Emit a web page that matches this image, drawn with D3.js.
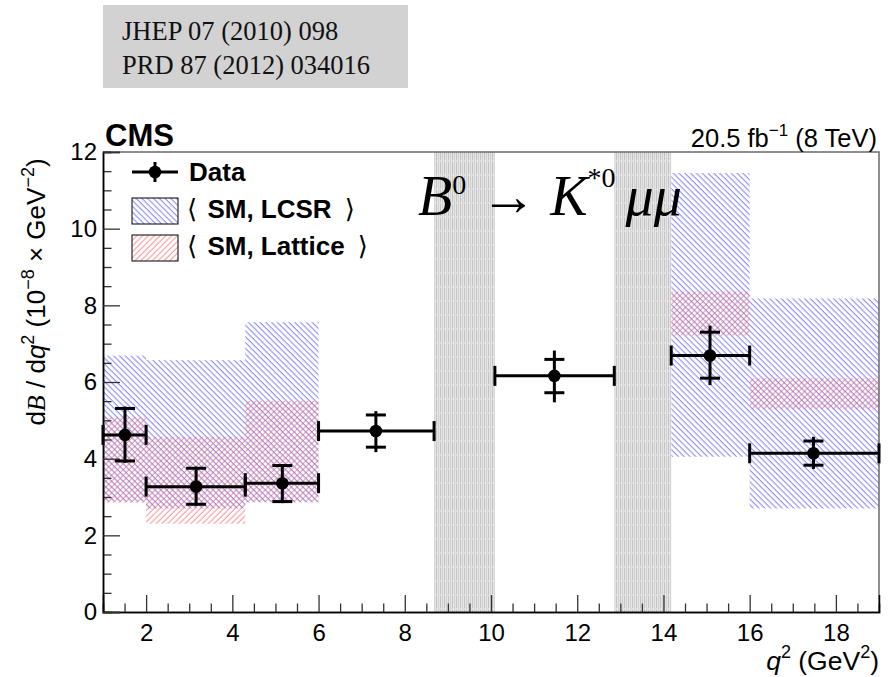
<!DOCTYPE html>
<html>
<head>
<meta charset="utf-8">
<script src="https://cdn.jsdelivr.net/npm/d3@7"></script>
<style>
  html, body { margin: 0; padding: 0; background: #fff; }
  svg { display: block; }
</style>
</head>
<body>
<svg id="chart" width="889" height="677" font-family="'Liberation Sans', Arial, sans-serif"></svg>
<script>
// Measured differential branching fraction per q^2 bin
const binLo   = [1.0, 2.0, 4.3, 6.0, 10.09, 14.18, 16.0];
const binHi   = [2.0, 4.3, 6.0, 8.68, 12.86, 16.0, 19.0];
const binMean = [1.51, 3.16, 5.16, 7.33, 11.47, 15.08, 17.48];
const dataVal = [4.62, 3.27, 3.36, 4.72, 6.16, 6.69, 4.14];
// inner (statistical) and outer (total) uncertainties
const statUp  = [0.69, 0.48, 0.46, 0.42, 0.43, 0.61, 0.32];
const statDn  = [0.68, 0.46, 0.48, 0.42, 0.44, 0.59, 0.31];
const totUp   = [0.74, 0.52, 0.50, 0.52, 0.66, 0.78, 0.43];
const totDn   = [0.73, 0.50, 0.52, 0.55, 0.69, 0.77, 0.41];

// SM predictions (bands) in the theory-covered bins
const thLo     = [1.0, 2.0, 4.3, 14.18, 16.0];
const thHi     = [2.0, 4.3, 6.0, 16.0, 19.0];
const lcsrMin  = [2.88, 2.70, 2.86, 4.05, 2.70];
const lcsrMax  = [6.69, 6.57, 7.56, 11.45, 8.18];
const lattMin  = [2.85, 2.30, 2.88, 7.21, 5.29];
const lattMax  = [5.08, 4.57, 5.51, 8.36, 6.10];

// Vetoed charmonium regions (J/psi and psi')
const vetoLo = [8.68, 12.86];
const vetoHi = [10.09, 14.18];

const xTicks = [2, 4, 6, 8, 10, 12, 14, 16, 18];
const yTicks = [0, 2, 4, 6, 8, 10, 12];

const SANS = "'Liberation Sans', Arial, sans-serif";
const SERIF = "'Liberation Serif', 'Times New Roman', serif";

const svg = d3.select("#chart");
const L = 103, R = 879, T = 152, B = 612;

const x = d3.scaleLinear().domain([1, 19]).range([L, R]);
const y = d3.scaleLinear().domain([0, 12]).range([B, T]);

// ---- fill patterns ----
const defs = svg.append("defs");
function hatch(id, color, angle) {
  const s = 4.1;
  const p = defs.append("pattern")
    .attr("id", id).attr("patternUnits", "userSpaceOnUse")
    .attr("width", s).attr("height", s)
    .attr("patternTransform", `rotate(${angle})`);
  p.append("line").attr("x1", 1).attr("x2", 1).attr("y1", 0).attr("y2", s)
    .attr("stroke", color).attr("stroke-width", 0.85);
}
hatch("hatchBlue", "rgba(70,70,240,0.8)", -45);
hatch("hatchRed", "rgba(245,80,80,0.75)", 45);

const vp = defs.append("pattern")
  .attr("id", "vetoFill").attr("patternUnits", "userSpaceOnUse")
  .attr("width", 4).attr("height", 14);
vp.append("rect").attr("width", 4).attr("height", 14).attr("fill", "#e4e4e4");
vp.append("line").attr("x1", 0.5).attr("x2", 0.5).attr("y1", 0).attr("y2", 14)
  .attr("stroke", "#c4c4c4").attr("stroke-width", 1);
vp.append("line").attr("x1", 2.5).attr("x2", 2.5).attr("y1", 0).attr("y2", 14)
  .attr("stroke", "#d2d2d2").attr("stroke-width", 1);
vp.append("line").attr("x1", 0).attr("x2", 4).attr("y1", 7).attr("y2", 7)
  .attr("stroke", "#f4f4f4").attr("stroke-width", 0.8).attr("stroke-dasharray", "2,2");

// ---- reference box ----
svg.append("rect").attr("x", 103).attr("y", 5).attr("width", 305).attr("height", 83)
  .attr("fill", "#d3d2d3");
[["JHEP 07 (2010) 098", 40], ["PRD 87 (2012) 034016", 74]].forEach(([s, yy]) => {
  svg.append("text").attr("x", 122).attr("y", yy)
    .attr("font-family", SERIF).attr("font-size", 26.5).attr("fill", "#111").text(s);
});

// ---- theory bands ----
const th = thLo.map((d, i) => ({lo: d, hi: thHi[i], lcsr: [lcsrMin[i], lcsrMax[i]], latt: [lattMin[i], lattMax[i]]}));
svg.append("g").selectAll("rect").data(th).join("rect")
  .attr("x", d => x(d.lo)).attr("width", d => x(d.hi) - x(d.lo))
  .attr("y", d => y(d.lcsr[1])).attr("height", d => y(d.lcsr[0]) - y(d.lcsr[1]))
  .attr("fill", "url(#hatchBlue)");
svg.append("g").selectAll("rect").data(th).join("rect")
  .attr("x", d => x(d.lo)).attr("width", d => x(d.hi) - x(d.lo))
  .attr("y", d => y(d.latt[1])).attr("height", d => y(d.latt[0]) - y(d.latt[1]))
  .attr("fill", "url(#hatchRed)");

// ---- vetoed regions ----
svg.append("g").selectAll("rect").data(vetoLo.map((d, i) => [d, vetoHi[i]])).join("rect")
  .attr("x", d => x(d[0])).attr("width", d => x(d[1]) - x(d[0]))
  .attr("y", y(12)).attr("height", y(0) - y(12))
  .attr("fill", "url(#vetoFill)");

// ---- frame & axes ----
svg.append("path")
  .attr("d", `M${L},${T}H${R}V${B}`)
  .attr("fill", "none").attr("stroke", "#6a6a6a").attr("stroke-width", 1.5);

const tickStyle = g => {
  g.select(".domain").attr("stroke", "#000").attr("stroke-width", 1.5);
  g.selectAll(".tick line").attr("stroke", "#333").attr("stroke-width", 1.3);
  g.selectAll(".tick text").attr("font-family", SANS).attr("font-size", 24).attr("fill", "#000");
};

svg.append("g").attr("transform", `translate(0,${B})`)
  .call(d3.axisBottom(x).tickValues(d3.range(1.5, 19, 0.5).filter(v => v % 2 !== 0)).tickSize(-8.5).tickFormat(""))
  .call(tickStyle);
svg.append("g").attr("transform", `translate(0,${B})`)
  .call(d3.axisBottom(x).tickValues(xTicks).tickSize(-17).tickPadding(12).tickFormat(d3.format("d")))
  .call(tickStyle);

svg.append("g").attr("transform", `translate(${L},0)`)
  .call(d3.axisLeft(y).tickValues(d3.range(0.5, 12, 0.5).filter(v => v % 2 !== 0)).tickSize(-8.5).tickFormat(""))
  .call(tickStyle);
svg.append("g").attr("transform", `translate(${L},0)`)
  .call(d3.axisLeft(y).tickValues(yTicks).tickSize(-17).tickPadding(6).tickFormat(d3.format("d")))
  .call(tickStyle);

// ---- axis titles ----
const yt = svg.append("text")
  .attr("transform", "translate(45,292) rotate(-90)")
  .attr("text-anchor", "middle").attr("font-family", SANS).attr("font-size", 26).attr("fill", "#000");
yt.append("tspan").text("d");
yt.append("tspan").attr("font-family", SERIF).attr("font-style", "italic").text("B");
yt.append("tspan").text(" / d");
yt.append("tspan").attr("font-style", "italic").text("q");
yt.append("tspan").attr("dy", -11).attr("font-size", 18).text("2");
yt.append("tspan").attr("dy", 11).text(" (10");
yt.append("tspan").attr("dy", -11).attr("font-size", 18).text("\u22128");
yt.append("tspan").attr("dy", 11).text(" \u00d7 GeV");
yt.append("tspan").attr("dy", -11).attr("font-size", 18).text("\u22122");
yt.append("tspan").attr("dy", 11).text(")");

const xt = svg.append("text").attr("x", R).attr("y", 670)
  .attr("text-anchor", "end").attr("font-family", SANS).attr("font-size", 26.5).attr("fill", "#000");
xt.append("tspan").attr("font-style", "italic").text("q");
xt.append("tspan").attr("dy", -12).attr("font-size", 18).text("2");
xt.append("tspan").attr("dy", 12).text(" (GeV");
xt.append("tspan").attr("dy", -12).attr("font-size", 18).text("2");
xt.append("tspan").attr("dy", 12).text(")");

// ---- header labels ----
svg.append("text").attr("x", 105).attr("y", 146).attr("font-family", SANS)
  .attr("font-size", 31).attr("font-weight", "bold").text("CMS");

const lumi = svg.append("text").attr("x", 877).attr("y", 147)
  .attr("text-anchor", "end").attr("font-family", SANS).attr("font-size", 25.5);
lumi.append("tspan").text("20.5 fb");
lumi.append("tspan").attr("dy", -11).attr("font-size", 17).text("\u22121");
lumi.append("tspan").attr("dy", 11).text("  (8 TeV)");

// ---- decay label ----
const dec = svg.append("text").attr("x", 418).attr("y", 215)
  .attr("font-family", SERIF).attr("font-size", 56);
dec.append("tspan").attr("font-style", "italic").text("B");
dec.append("tspan").attr("dy", -21).attr("font-size", 28).text("0");
dec.append("tspan").attr("dy", 21).text(" \u2192 ");
dec.append("tspan").attr("font-style", "italic").text("K");
dec.append("tspan").attr("dy", -28).attr("font-size", 28).text("*0");
dec.append("tspan").attr("dy", 28).attr("dx", 10).attr("font-style", "italic").text("\u03bc\u03bc");

// ---- data points ----
const pts = binLo.map((d, i) => ({
  lo: d, hi: binHi[i], m: binMean[i], v: dataVal[i],
  su: statUp[i], sd: statDn[i], tu: totUp[i], td: totDn[i]
}));
const dg = svg.append("g").attr("stroke", "#000").attr("stroke-width", 3);
const cap = 10;
pts.forEach(p => {
  const g = dg.append("g");
  g.append("line").attr("x1", x(p.lo)).attr("x2", x(p.hi)).attr("y1", y(p.v)).attr("y2", y(p.v));
  g.append("line").attr("x1", x(p.lo)).attr("x2", x(p.lo)).attr("y1", y(p.v) - cap).attr("y2", y(p.v) + cap);
  g.append("line").attr("x1", x(p.hi)).attr("x2", x(p.hi)).attr("y1", y(p.v) - cap).attr("y2", y(p.v) + cap);
  g.append("line").attr("x1", x(p.m)).attr("x2", x(p.m)).attr("y1", y(p.v + p.tu)).attr("y2", y(p.v - p.td));
  g.append("line").attr("x1", x(p.m) - cap).attr("x2", x(p.m) + cap).attr("y1", y(p.v + p.su)).attr("y2", y(p.v + p.su));
  g.append("line").attr("x1", x(p.m) - cap).attr("x2", x(p.m) + cap).attr("y1", y(p.v - p.sd)).attr("y2", y(p.v - p.sd));
  g.append("circle").attr("cx", x(p.m)).attr("cy", y(p.v)).attr("r", 6.3).attr("fill", "#000").attr("stroke", "none");
});

// ---- legend ----
const lg = svg.append("g");
const lx0 = 132, lx1 = 178;
lg.append("line").attr("x1", lx0).attr("x2", lx1).attr("y1", 172).attr("y2", 172)
  .attr("stroke", "#000").attr("stroke-width", 3);
lg.append("line").attr("x1", 155).attr("x2", 155).attr("y1", 162).attr("y2", 182)
  .attr("stroke", "#000").attr("stroke-width", 3);
lg.append("circle").attr("cx", 155).attr("cy", 172).attr("r", 6.3).attr("fill", "#000");
lg.append("text").attr("x", 189).attr("y", 181).attr("font-family", SANS)
  .attr("font-size", 26).attr("font-weight", "bold").text("Data");

const boxes = [
  {y0: 198, fill: "url(#hatchBlue)", label: "SM, LCSR", ty: 218},
  {y0: 235, fill: "url(#hatchRed)", label: "SM, Lattice", ty: 255}
];
boxes.forEach(b => {
  lg.append("rect").attr("x", lx0).attr("y", b.y0).attr("width", lx1 - lx0).attr("height", 26)
    .attr("fill", "#fff");
  lg.append("rect").attr("x", lx0).attr("y", b.y0).attr("width", lx1 - lx0).attr("height", 26)
    .attr("fill", b.fill).attr("stroke", "#000").attr("stroke-width", 1);
  const t = lg.append("text").attr("x", 187).attr("y", b.ty).attr("font-family", SANS).attr("font-size", 26);
  t.append("tspan").attr("font-family", "'DejaVu Sans', sans-serif").attr("font-weight", "normal").text("\u27e8");
  t.append("tspan").attr("dx", 3).attr("font-weight", "bold").text(" " + b.label + " ");
  t.append("tspan").attr("dx", 6).attr("font-family", "'DejaVu Sans', sans-serif").attr("font-weight", "normal").text("\u27e9");
});
</script>
</body>
</html>
